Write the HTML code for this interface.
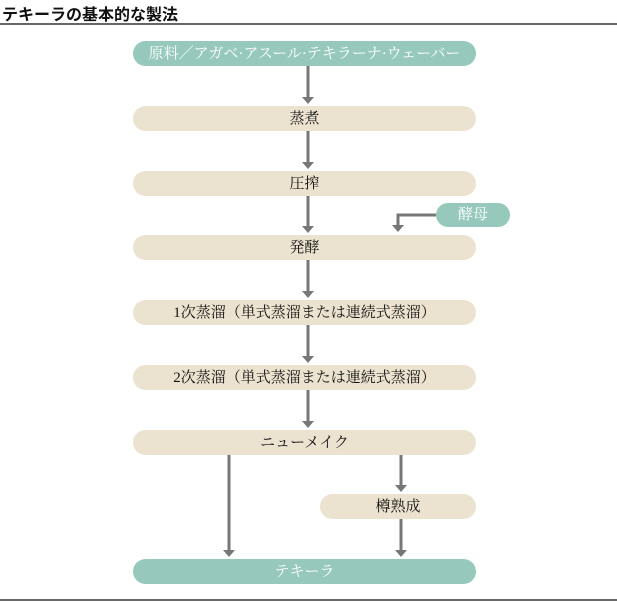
<!DOCTYPE html>
<html><head><meta charset="utf-8"><style>
body{margin:0;width:617px;height:602px;background:#fff;position:relative;overflow:hidden;font-family:"Liberation Serif","Noto Serif CJK SC",serif;}
.t{position:absolute;left:2px;top:1px;font:bold 16px "Liberation Sans","Noto Sans CJK JP",sans-serif;color:#111;}
.b{position:absolute;height:25px;border-radius:13px;background:#ebe3cf;text-align:center;line-height:26px;font-size:15px;color:#111;}
.g{background:#96c9bc;color:#fff;}
svg{position:absolute;left:0;top:0}
</style></head><body>
<div class="t">テキーラの基本的な製法</div>
<div style="position:absolute;left:0;top:23px;width:617px;height:2px;background:#666"></div>
<div style="position:absolute;left:0;top:599px;width:617px;height:2px;background:#666"></div>
<div class="b g" style="left:133px;top:41px;width:343px">原料／アガベ·アスール·テキラーナ·ウェーバー</div>
<div class="b" style="left:133px;top:106px;width:343px">蒸煮</div>
<div class="b" style="left:133px;top:171px;width:343px">圧搾</div>
<div class="b g" style="left:436px;top:203px;width:74px;height:24px;line-height:25px">酵母</div>
<div class="b" style="left:133px;top:235px;width:343px">発酵</div>
<div class="b" style="left:133px;top:300px;width:343px">1次蒸溜（単式蒸溜または連続式蒸溜）</div>
<div class="b" style="left:133px;top:365px;width:343px">2次蒸溜（単式蒸溜または連続式蒸溜）</div>
<div class="b" style="left:133px;top:430px;width:343px">ニューメイク</div>
<div class="b" style="left:320px;top:494px;width:156px">樽熟成</div>
<div class="b g" style="left:133px;top:559px;width:343px">テキーラ</div>
<svg width="617" height="602" fill="#777" stroke="#777">
<g stroke-width="3">
<line x1="308" y1="66" x2="308" y2="98"/><line x1="308" y1="131" x2="308" y2="163"/>
<line x1="308" y1="196" x2="308" y2="227"/><line x1="308" y1="260" x2="308" y2="292"/>
<line x1="308" y1="325" x2="308" y2="357"/><line x1="308" y1="390" x2="308" y2="422"/>
<line x1="229" y1="455" x2="229" y2="551"/><line x1="401" y1="455" x2="401" y2="486"/>
<line x1="401" y1="519" x2="401" y2="551"/>
<polyline points="436,215 398,215 398,226" fill="none"/>
</g>
<g stroke="none">
<polygon points="302,97 314,97 308,104"/><polygon points="302,162 314,162 308,169"/>
<polygon points="302,226 314,226 308,233"/><polygon points="302,291 314,291 308,298"/>
<polygon points="302,356 314,356 308,363"/><polygon points="302,421 314,421 308,428"/>
<polygon points="223,550 235,550 229,557"/><polygon points="395,485 407,485 401,492"/>
<polygon points="395,550 407,550 401,557"/><polygon points="392,225 404,225 398,232"/>
</g></svg>
</body></html>
